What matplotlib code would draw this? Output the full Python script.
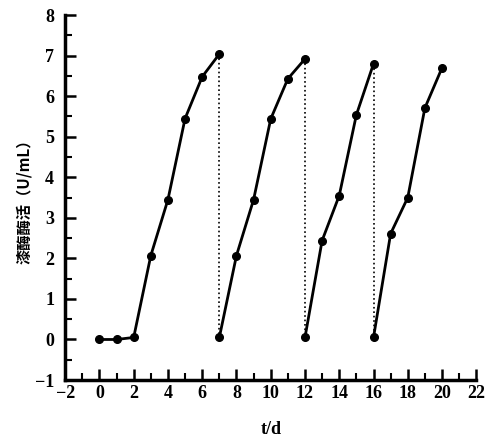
import numpy as np
import matplotlib
matplotlib.use('Agg')
import matplotlib.pyplot as plt
from matplotlib.ticker import MultipleLocator

plt.rcParams['font.family'] = ['Liberation Serif', 'Noto Sans CJK SC']

# 四批次培养的酶活数据
t1 = [0, 1, 2, 3, 4, 5, 6, 7]
y1 = [0, 0, 0.05, 2.07, 3.45, 5.45, 6.48, 7.04]
t2 = [7, 8, 9, 10, 11, 12]
y2 = [0.05, 2.07, 3.45, 5.44, 6.43, 6.92]
t3 = [12, 13, 14, 15, 16]
y3 = [0.05, 2.44, 3.55, 5.54, 6.8]
t4 = [16, 17, 18, 19, 20]
y4 = [0.05, 2.61, 3.5, 5.71, 6.7]

fig = plt.figure(figsize=(4.9, 4.45), dpi=100)
ax = fig.add_axes([0.133, 0.146, 0.839, 0.82])

for t, y in [(t1, y1), (t2, y2), (t3, y3), (t4, y4)]:
    ax.plot(t, y, 'k-', lw=2.0, marker='o', ms=5.5, mfc='k', mec='k')

# 换液时刻的虚线
for t, y in [(t1, y1), (t2, y2), (t3, y3)]:
    ax.plot([t[-1], t[-1]], [y[-1], 0], 'k:', lw=1.2)

ax.set_xlim(-2, 22)
ax.set_ylim(-1, 8)
ax.xaxis.set_major_locator(MultipleLocator(2))
ax.xaxis.set_minor_locator(MultipleLocator(1))
ax.yaxis.set_major_locator(MultipleLocator(1))
ax.yaxis.set_minor_locator(MultipleLocator(0.5))
ax.tick_params(which='major', direction='in', length=8, width=1.8, labelsize=13)
ax.tick_params(which='minor', direction='in', length=5, width=1.5)
ax.tick_params(axis='y', pad=8)
for lab in ax.get_xticklabels() + ax.get_yticklabels():
    lab.set_fontweight('bold')

ax.spines['top'].set_visible(False)
ax.spines['right'].set_visible(False)
ax.spines['left'].set_linewidth(2.5)
ax.spines['bottom'].set_linewidth(2.5)

ax.set_xlabel('t/d', fontsize=13, fontweight='bold', labelpad=14)
ax.set_ylabel('漆酶酶活（U/mL）', fontsize=11, fontweight='bold', labelpad=2,
              family=['Noto Sans CJK SC', 'DejaVu Sans'])

fig.savefig('out.png', dpi=100)
